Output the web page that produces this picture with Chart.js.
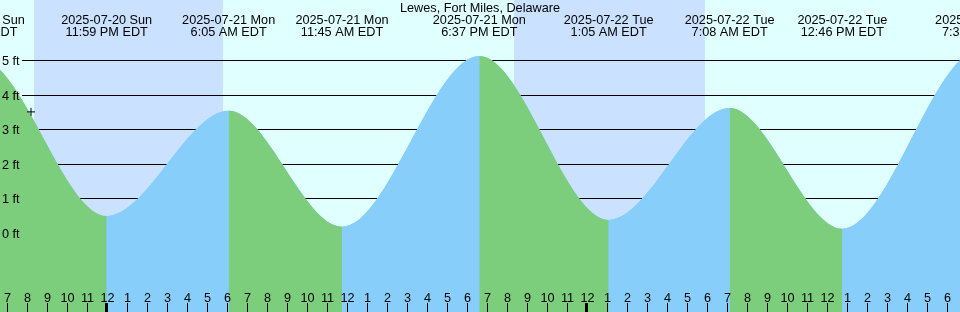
<!DOCTYPE html>
<html>
<head>
<meta charset="utf-8">
<script src="https://cdn.jsdelivr.net/npm/chart.js@4.4.1/dist/chart.umd.min.js"></script>
<style>
  html, body { margin: 0; padding: 0; background: #e0ffff; }
  #wrap { width: 960px; height: 312px; position: relative; }
</style>
</head>
<body>
<div id="wrap"><canvas id="tideChart"></canvas></div>
<script>
// Times are hours relative to 2025-07-21 00:00 EDT
const tideHours = [-12.6, -6.383, -0.017, 6.083, 11.75, 18.617, 25.083, 31.133, 36.767, 43.65, 49.9];
const tideFeet = [0.2, 5.05, 0.49, 3.54, 0.18, 5.13, 0.38, 3.62, 0.12, 5.3, 0.5];
const tideDates = ['2025-07-20 Sun', '2025-07-20 Sun', '2025-07-20 Sun', '2025-07-21 Mon', '2025-07-21 Mon',
  '2025-07-21 Mon', '2025-07-22 Tue', '2025-07-22 Tue', '2025-07-22 Tue', '2025-07-22 Tue', '2025-07-23 Wed'];
const tideClock = ['11:24 AM EDT', '5:37 PM EDT', '11:59 PM EDT', '6:05 AM EDT', '11:45 AM EDT',
  '6:37 PM EDT', '1:05 AM EDT', '7:08 AM EDT', '12:46 PM EDT', '7:39 PM EDT', '1:54 AM EDT'];

const nightStart = [-3.65, 20.35];
const nightEnd = [5.82, 29.9];

const ftTicks = [0, 1, 2, 3, 4, 5];

const nowHours = [-3.8];
const nowFeet = [3.51];

const stationName = 'Lewes, Fort Miles, Delaware';

const colors = {
  day: '#e0ffff',
  night: '#cae1ff',
  ebb: '#7ccd7c',
  flood: '#87cefa',
};
const FONT = '12.7px "Liberation Sans", Arial, sans-serif';

function hourLabel(h) {
  const hh = ((h % 24) + 24) % 24;
  return String(hh % 12 === 0 ? 12 : hh % 12);
}

const tidePoints = tideHours.map((h, i) => ({x: h, y: tideFeet[i]}));

const tidePainter = {
  id: 'tidePainter',
  beforeDraw(chart) {
    const {ctx, width, height} = chart;
    ctx.save();
    ctx.fillStyle = colors.day;
    ctx.fillRect(0, 0, width, height);
    ctx.restore();
  },
  beforeDatasetsDraw(chart) {
    const {ctx, chartArea: a, scales: {x, y}} = chart;
    ctx.save();
    ctx.fillStyle = colors.night;
    nightStart.forEach((s, i) => {
      const x0 = Math.round(x.getPixelForValue(s));
      const x1 = Math.round(x.getPixelForValue(nightEnd[i]));
      ctx.fillRect(x0, a.top, x1 - x0, a.bottom - a.top);
    });
    ctx.strokeStyle = '#000';
    ctx.lineWidth = 1;
    ftTicks.forEach(v => {
      const py = Math.floor(y.getPixelForValue(v) + 0.001) + 0.5;
      ctx.beginPath();
      ctx.moveTo(22, py);
      ctx.lineTo(a.right, py);
      ctx.stroke();
    });
    ctx.restore();
  },
  afterDatasetsDraw(chart) {
    const {ctx, chartArea: a, scales: {x, y}} = chart;
    ctx.save();
    ctx.font = FONT;
    ctx.fillStyle = '#000';
    ctx.textBaseline = 'alphabetic';

    ctx.textAlign = 'center';
    ctx.fillText(stationName, (a.left + a.right) / 2, 12);
    tideHours.forEach((h, i) => {
      const px = x.getPixelForValue(h);
      ctx.fillText(tideDates[i], px, 24);
      ctx.fillText(tideClock[i], px, 36);
    });

    ctx.textAlign = 'left';
    ftTicks.forEach(v => {
      const py = Math.floor(y.getPixelForValue(v) + 0.001) + 0.5;
      ctx.fillText(v + ' ft', 2, py + 4.5);
    });

    // hour ticks along the bottom
    ctx.textAlign = 'center';
    for (let h = Math.ceil(x.min); h <= Math.floor(x.max); h++) {
      const px = Math.round(x.getPixelForValue(h));
      const midnight = ((h % 24) + 24) % 24 === 0;
      ctx.fillRect(midnight ? px - 2 : px, 303, midnight ? 3 : 1, a.bottom - 303);
      ctx.fillText(hourLabel(h), px + 0.5, 302);
    }
    ctx.restore();
  }
};

new Chart(document.getElementById('tideChart'), {
  type: 'line',
  data: {
    datasets: [{
      type: 'scatter',
      data: nowHours.map((h, i) => ({x: h, y: nowFeet[i]})),
      pointStyle: 'cross',
      pointRadius: 4,
      pointBorderColor: '#000',
      pointBorderWidth: 1,
      showLine: false,
    }, {
      // ebb (falling) in green, flood (rising) in blue
      data: tidePoints,
      cubicInterpolationMode: 'monotone',
      pointRadius: 0,
      borderWidth: 0,
      fill: 'start',
      backgroundColor: colors.flood,
      segment: {
        backgroundColor: c => c.p1.parsed.y < c.p0.parsed.y ? colors.ebb : colors.flood,
      },
    }, {
      // underlay so segment seams do not show the background
      data: tidePoints,
      cubicInterpolationMode: 'monotone',
      pointRadius: 0,
      borderWidth: 0,
      fill: 'start',
      backgroundColor: colors.flood,
    }]
  },
  options: {
    responsive: true,
    maintainAspectRatio: false,
    animation: false,
    events: [],
    layout: { padding: 0, autoPadding: false },
    scales: {
      x: { type: 'linear', min: -5.35, max: 42.65, display: false },
      y: { type: 'linear', min: -2.28986, max: 6.75362, display: false },
    },
    plugins: {
      legend: { display: false },
      tooltip: { enabled: false },
    },
  },
  plugins: [tidePainter],
});
</script>
</body>
</html>
